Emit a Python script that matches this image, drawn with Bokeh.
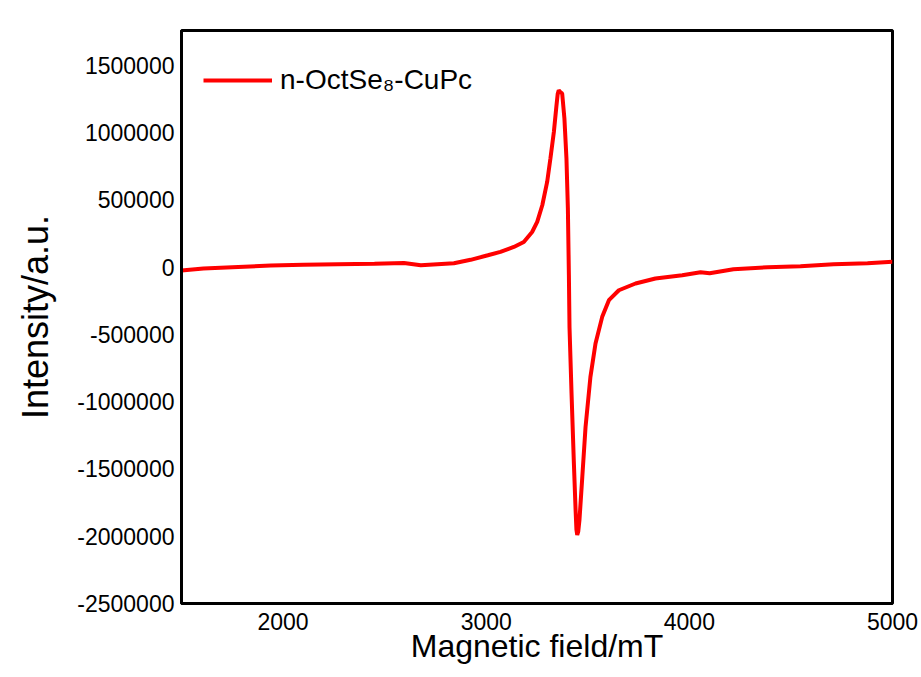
from bokeh.plotting import figure
from bokeh.models import FixedTicker, NumeralTickFormatter, Legend, LegendItem, ColumnDataSource
from bokeh.embed import file_html
from bokeh.resources import INLINE

# Data (Magnetic field in mT, intensity in a.u.)
field = [1500, 1608, 1750, 1939, 2100, 2269, 2450, 2595, 2678, 2841, 2923, 3008,
         3070, 3136, 3185, 3226, 3251, 3276, 3300, 3316, 3333, 3346, 3352, 3357,
         3363, 3374, 3385, 3395, 3402, 3407, 3410, 3420, 3431, 3440, 3444, 3448,
         3453, 3459, 3473, 3489, 3513, 3538, 3571, 3604, 3653, 3735, 3833, 3965,
         4055, 4100, 4217, 4385, 4547, 4710, 4877, 5000]
intensity = [-25000, -9000, 0, 12000, 18000, 22000, 25000, 32000, 15000, 30000, 55000, 89000,
             114000, 151000, 188000, 262000, 337000, 461000, 634000, 808000, 1005000, 1204000, 1290000, 1315000,
             1305000, 1291000, 1105000, 808000, 436000, -59000, -444000, -938000, -1434000, -1806000, -1950000, -1991000,
             -1965000, -1880000, -1558000, -1187000, -815000, -567000, -369000, -245000, -171000, -121000, -84000, -59000,
             -37000, -45000, -15000, 0, 7000, 22000, 30000, 40000]

x_ticks = [2000, 3000, 4000, 5000]
y_ticks = [-2500000, -2000000, -1500000, -1000000, -500000, 0, 500000, 1000000, 1500000]
series_label = "n-OctSe\u2088-CuPc"

FONT = "Liberation Sans"

p = figure(width=921, height=677, output_backend="svg", toolbar_location=None,
           x_range=(1500, 5000), y_range=(-2500000, 1760000),
           min_border_left=181, min_border_right=29, min_border_top=30, min_border_bottom=74)
p.background_fill_color = "white"
p.border_fill_color = "white"
p.grid.visible = False
p.outline_line_color = "black"
p.outline_line_width = 3

src = ColumnDataSource(dict(x=field, y=intensity))
r = p.line("x", "y", source=src, line_color="#ff0000", line_width=4)

for ax in (p.xaxis[0], p.yaxis[0]):
    ax.axis_line_color = "black"
    ax.axis_line_width = 3
    ax.major_tick_line_color = None
    ax.minor_tick_line_color = None
    ax.major_label_text_font = FONT
    ax.major_label_text_font_size = "23px"
    ax.major_label_text_color = "black"
    ax.axis_label_text_font = FONT
    ax.axis_label_text_font_style = "normal"
    ax.axis_label_text_color = "black"
    ax.formatter = NumeralTickFormatter(format="0")

p.xaxis.ticker = FixedTicker(ticks=x_ticks)
p.yaxis.ticker = FixedTicker(ticks=y_ticks)
p.xaxis.axis_label = "Magnetic field/mT"
p.yaxis.axis_label = "Intensity/a.u."
p.xaxis.axis_label_text_font_size = "32px"
p.yaxis.axis_label_text_font_size = "36px"
p.xaxis.major_label_standoff = 3
p.yaxis.major_label_standoff = 1
p.xaxis.axis_label_standoff = -5
p.yaxis.axis_label_standoff = 18

legend = Legend(items=[LegendItem(label=series_label, renderers=[r])],
                location="top_left", margin=22, padding=0,
                glyph_width=69, glyph_height=56, label_height=56,
                label_standoff=8, border_line_color=None, background_fill_alpha=0,
                label_text_font=FONT, label_text_font_size="28px", label_text_color="black")
p.add_layout(legend)

open("out.html", "w").write(file_html(p, INLINE))
